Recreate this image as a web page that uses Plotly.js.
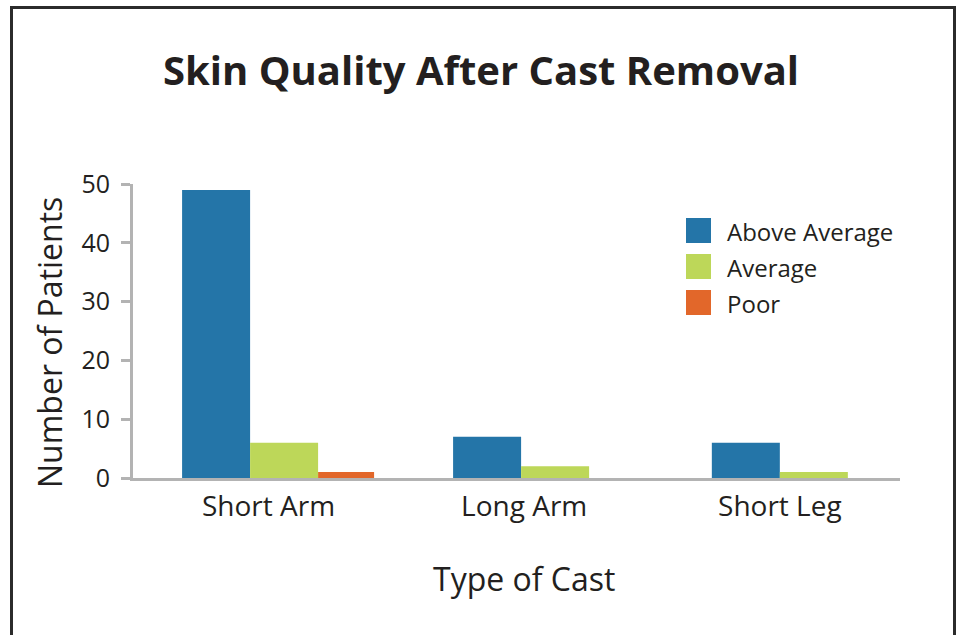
<!DOCTYPE html>
<html>
<head>
<meta charset="utf-8">
<script src="https://cdn.plot.ly/plotly-3.0.1.min.js"></script>
<style>
  html, body { margin: 0; padding: 0; background: #fff; }
  #wrap { position: relative; width: 960px; height: 635px; overflow: hidden; }
  #chart { width: 960px; height: 635px; }
  #frame { position: absolute; left: 10px; top: 6px; width: 940px; height: 700px;
           border: 3px solid #2b2b2b; pointer-events: none; box-sizing: content-box; }
</style>
</head>
<body>
<div id="wrap">
  <div id="chart"></div>
  <div id="frame"></div>
</div>
<script>
// ---- data ----
const castTypes = ["Short Arm", "Long Arm", "Short Leg"];
const seriesNames = ["Above Average", "Average", "Poor"];
const aboveAverage = [49, 7, 6];
const average = [6, 2, 1];
const poor = [1, 0, 0];
const yTickVals = [0, 10, 20, 30, 40, 50];
const titleText = "Skin Quality After Cast Removal";
const xTitle = "Type of Cast";
const yTitle = "Number of Patients";

// ---- style ----
const colors = ["#2475A8", "#BDD759", "#E2672A"];
const barWidths = [0.266, 0.266, 0.219];
const barOffsets = [[-0.338, -0.278, -0.266], [-0.072, -0.012, 0.0], [0.194, 0.254, 0.266]];
const textColor = "#231F20";
const axisColor = "#B3B3B3";
const font = "'Open Sans', 'Noto Sans', sans-serif";

const values = [aboveAverage, average, poor];
const traces = values.map((v, i) => ({
  type: "bar",
  name: seriesNames[i],
  x: castTypes,
  y: v,
  width: barWidths[i],
  offset: barOffsets[i],
  marker: { color: colors[i], line: { width: 0 } },
  showlegend: false,
  hoverinfo: "x+y+name"
}));

// plot area in pixels: x 133..900, y 184..478
const L = 133, R = 900, T = 184, B = 478;
const px = x => (x - L) / (R - L);
const py = y => (B - y) / (B - T);

const shapes = [];
const annotations = [];
const legendTop = [218, 254, 290];
seriesNames.forEach((n, i) => {
  shapes.push({ type: "rect", xref: "paper", yref: "paper",
    x0: px(686), x1: px(711), y0: py(legendTop[i] + 25), y1: py(legendTop[i]),
    fillcolor: colors[i], line: { width: 0 } });
  annotations.push({ xref: "paper", yref: "paper", x: px(725), y: py(legendTop[i] + 13),
    xanchor: "left", yanchor: "middle", showarrow: false, text: n,
    font: { family: font, size: 24, color: textColor } });
});
// axis titles
annotations.push({ xref: "paper", yref: "paper", x: px(524), y: py(578),
  xanchor: "center", yanchor: "middle", showarrow: false, text: xTitle,
  font: { family: font, size: 32, color: textColor } });
annotations.push({ xref: "paper", yref: "paper", x: px(49), y: py(343),
  xanchor: "center", yanchor: "middle", showarrow: false, text: yTitle, textangle: -90,
  font: { family: font, size: 32, color: textColor } });

const layout = {
  width: 960, height: 635,
  margin: { l: L, r: 960 - R, t: T, b: 635 - B, pad: 0 },
  paper_bgcolor: "#fff", plot_bgcolor: "#fff",
  font: { family: font, color: textColor },
  title: { text: "<b>" + titleText + "</b>", x: 481 / 960, xref: "container", xanchor: "center",
           y: 1 - 71 / 635, yref: "container", yanchor: "middle",
           font: { family: font, size: 40, color: textColor } },
  xaxis: {
    type: "category", range: [-0.53, 2.47], fixedrange: true,
    showline: true, linecolor: axisColor, linewidth: 3,
    showgrid: false, zeroline: false, ticks: "",
    tickfont: { family: font, size: 28, color: textColor },
    ticklabelstandoff: 1
  },
  yaxis: {
    range: [0, 50], fixedrange: true,
    tickvals: yTickVals,
    showline: true, linecolor: axisColor, linewidth: 3,
    ticks: "outside", ticklen: 9, tickwidth: 3, tickcolor: axisColor,
    showgrid: false, zeroline: false,
    tickfont: { family: font, size: 25, color: textColor },
    ticklabelstandoff: 6
  },
  barmode: "group",
  shapes: shapes,
  annotations: annotations,
  showlegend: false
};

Plotly.newPlot("chart", traces, layout, { displayModeBar: false, staticPlot: false });
</script>
</body>
</html>
